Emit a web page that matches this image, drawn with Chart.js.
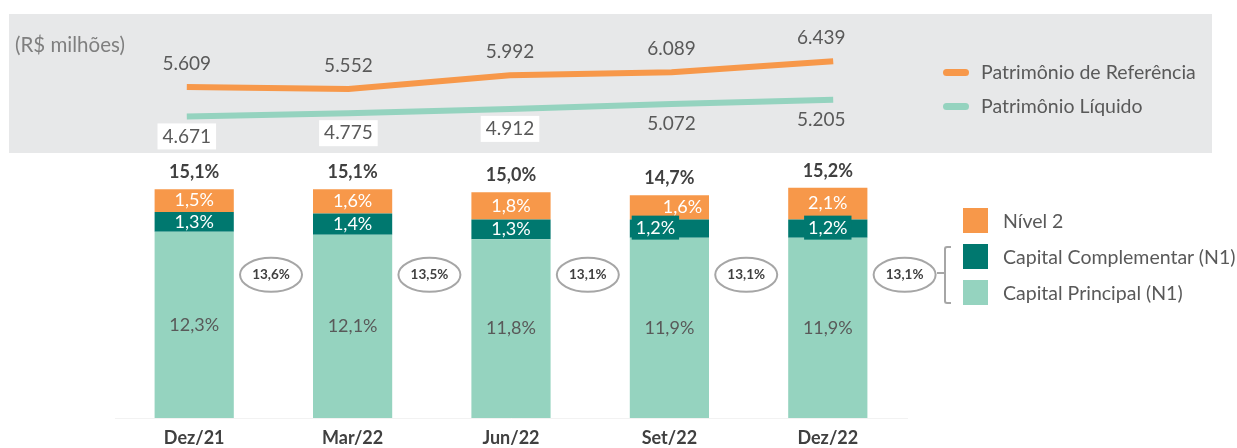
<!DOCTYPE html>
<html>
<head>
<meta charset="utf-8">
<script src="https://cdn.jsdelivr.net/npm/chart.js@4.4.0/dist/chart.umd.min.js"></script>
<style>
body { margin: 0; background: #fff; font-family: Lato, sans-serif; }
#wrap { position: relative; width: 1237px; height: 448px; overflow: hidden; }
#panel { position: absolute; left: 9px; top: 14px; width: 1203px; height: 139px; background: #e7e8e9; }
#lineChart { position: absolute; left: 9px; top: 14px; }
#barChart { position: absolute; left: 0; top: 155px; }
.txt { position: absolute; color: #595959; font-size: 19.5px; white-space: nowrap; line-height: 22px; }
.unit { color: #7f7f7f; font-size: 20.5px; }
.lsw { position: absolute; width: 26px; height: 7px; border-radius: 4px; }
.sq { position: absolute; width: 25px; height: 25px; }
#bracket { position: absolute; left: 944px; top: 246px; width: 5px; height: 54px; border: 2px solid #a6a6a6; border-right: none; border-radius: 3px 0 0 3px; }
#bracketTick { position: absolute; left: 937px; top: 272px; width: 7px; height: 2px; background: #a6a6a6; }
</style>
</head>
<body>
<div id="wrap">
  <div id="panel"></div>
  <canvas id="lineChart" width="1203" height="139"></canvas>
  <canvas id="barChart" width="1237" height="293"></canvas>

  <div class="txt unit" style="left:15px; top:33px;">(R$ milhões)</div>

  <div class="lsw" style="left:943px; top:69px; background:#f7984a;"></div>
  <div class="txt" style="left:981px; top:61px;">Patrimônio de Referência</div>
  <div class="lsw" style="left:943px; top:103px; background:#95d3bf;"></div>
  <div class="txt" style="left:981px; top:95px;">Patrimônio Líquido</div>

  <div class="sq" style="left:963px; top:208px; background:#f7984a;"></div>
  <div class="txt" style="left:1003px; top:210px;">Nível 2</div>
  <div class="sq" style="left:963px; top:244px; background:#00786f;"></div>
  <div class="txt" style="left:1003px; top:246px;">Capital Complementar (N1)</div>
  <div class="sq" style="left:963px; top:280px; background:#95d3bf;"></div>
  <div class="txt" style="left:1003px; top:282px;">Capital Principal (N1)</div>
  <div id="bracket"></div>
  <div id="bracketTick"></div>
</div>

<script>
// dados (R$ milhões e % do RWA)
var periodos = ['Dez/21', 'Mar/22', 'Jun/22', 'Set/22', 'Dez/22'];
var patrimonioReferencia = [5609, 5552, 5992, 6089, 6439];
var patrimonioLiquido = [4671, 4775, 4912, 5072, 5205];
var capitalPrincipal = [12.3, 12.1, 11.8, 11.9, 11.9];
var capitalComplementar = [1.3, 1.4, 1.3, 1.2, 1.2];
var nivel2 = [1.5, 1.6, 1.8, 1.6, 2.1];
var basileia = [15.1, 15.1, 15.0, 14.7, 15.2];
var nivel1 = [13.6, 13.5, 13.1, 13.1, 13.1];

var LARANJA = '#f7984a';
var VERDE_ESCURO = '#00786f';
var VERDE_CLARO = '#95d3bf';
var CINZA_TEXTO = '#595959';

function milhar(v) {
    return String(v).replace(/\B(?=(\d{3})+(?!\d))/g, '.');
}
function pct(v) {
    return v.toFixed(1).replace('.', ',') + '%';
}

// rótulos das linhas
var rotulosLinha = {
    id: 'rotulosLinha',
    afterDatasetsDraw: function(chart) {
        var ctx = chart.ctx;
        ctx.save();
        ctx.font = '19px Lato';
        ctx.textAlign = 'center';
        ctx.textBaseline = 'middle';
        chart.data.datasets.forEach(function(ds, di) {
            chart.getDatasetMeta(di).data.forEach(function(pt, i) {
                var txt = milhar(ds.data[i]);
                var x = i === 4 ? pt.x - 12 : pt.x;
                var y = di === 0 ? pt.y - 23 : pt.y + 20;
                if (di === 1 && i < 3) {
                    var w = ctx.measureText(txt).width + 10;
                    ctx.fillStyle = '#ffffff';
                    ctx.fillRect(x - w / 2, y - 13, w, 26);
                }
                ctx.fillStyle = CINZA_TEXTO;
                ctx.fillText(txt, x, y);
            });
        });
        ctx.restore();
    }
};

new Chart(document.getElementById('lineChart').getContext('2d'), {
    type: 'line',
    data: {
        labels: periodos,
        datasets: [{
            label: 'Patrimônio de Referência',
            data: patrimonioReferencia,
            borderColor: LARANJA,
            borderWidth: 6,
            pointRadius: 0,
            fill: false
        }, {
            label: 'Patrimônio Líquido',
            data: patrimonioLiquido,
            borderColor: VERDE_CLARO,
            borderWidth: 6,
            pointRadius: 0,
            fill: false
        }]
    },
    options: {
        responsive: false,
        animation: false,
        layout: { padding: { left: 97, right: 298, top: 0, bottom: 0 } },
        plugins: { legend: { display: false }, tooltip: { enabled: false } },
        scales: {
            x: { display: false, offset: true },
            y: { display: false, min: 3500, max: 7950 }
        }
    },
    plugins: [rotulosLinha]
});

// rótulos das barras, totais e elipses do Nível 1
var rotulosBarra = {
    id: 'rotulosBarra',
    afterDatasetsDraw: function(chart) {
        var ctx = chart.ctx;
        var area = chart.chartArea;
        var larguraCat = area.width / periodos.length;
        ctx.save();
        ctx.textAlign = 'center';
        ctx.textBaseline = 'middle';

        chart.data.datasets.forEach(function(ds, di) {
            chart.getDatasetMeta(di).data.forEach(function(bar, i) {
                var txt = pct(ds.data[i]);
                var cy = (bar.y + bar.base) / 2;
                var x = bar.x;
                ctx.font = '18px Lato';
                if (di === 0) {
                    ctx.fillStyle = CINZA_TEXTO;
                    ctx.fillText(txt, x, cy);
                    return;
                }
                if (i === 3) x += di === 1 ? -14 : 13;
                if (di === 1 && i >= 3) {
                    var w = ctx.measureText(txt).width + 8;
                    ctx.fillStyle = VERDE_ESCURO;
                    ctx.fillRect(x - w / 2, cy - 13, w, 24);
                }
                ctx.fillStyle = '#ffffff';
                ctx.fillText(txt, x, cy);
            });
        });

        var topo = chart.getDatasetMeta(2).data;
        var y = chart.scales.y;
        topo.forEach(function(bar, i) {
            ctx.font = 'bold 18px Lato';
            ctx.fillStyle = '#404040';
            ctx.fillText(pct(basileia[i]), bar.x, bar.y - 17);

            var ex = bar.x + larguraCat * 0.485;
            var ey = y.getPixelForValue(9.45);
            ctx.beginPath();
            ctx.ellipse(ex, ey, 31, 17, 0, 0, Math.PI * 2);
            ctx.strokeStyle = '#a6a6a6';
            ctx.lineWidth = 2;
            ctx.stroke();
            ctx.font = 'bold 13.5px Lato';
            ctx.fillStyle = '#404040';
            ctx.fillText(pct(nivel1[i]), ex, ey);
        });
        ctx.restore();
    }
};

new Chart(document.getElementById('barChart').getContext('2d'), {
    type: 'bar',
    data: {
        labels: periodos,
        datasets: [{
            label: 'Capital Principal (N1)',
            data: capitalPrincipal,
            backgroundColor: VERDE_CLARO
        }, {
            label: 'Capital Complementar (N1)',
            data: capitalComplementar,
            backgroundColor: VERDE_ESCURO
        }, {
            label: 'Nível 2',
            data: nivel2,
            backgroundColor: LARANJA
        }]
    },
    options: {
        responsive: false,
        animation: false,
        layout: { padding: { left: 115, right: 330, top: 10, bottom: 0 } },
        plugins: { legend: { display: false }, tooltip: { enabled: false } },
        datasets: { bar: { categoryPercentage: 1, barPercentage: 0.5 } },
        scales: {
            x: {
                stacked: true,
                grid: { display: false, drawTicks: false },
                border: { display: true, color: '#f2f2f2', width: 1 },
                ticks: { color: '#404040', font: { family: 'Lato', size: 18, weight: 'bold' }, padding: 9 },
                afterFit: function(scale) { scale.height = 30; }
            },
            y: { stacked: true, display: false, min: 0, max: 16.7 }
        }
    },
    plugins: [rotulosBarra]
});
</script>
</body>
</html>
